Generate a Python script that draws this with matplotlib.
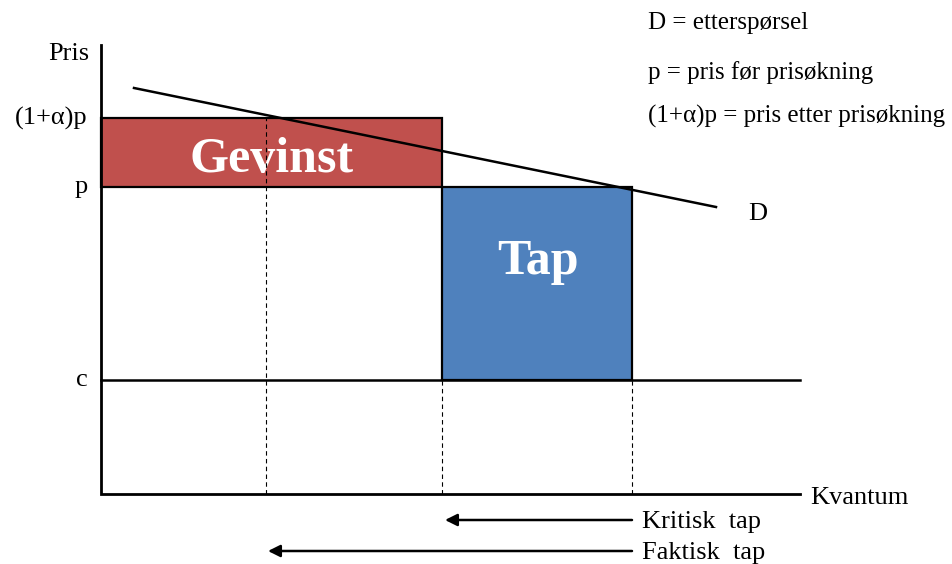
import matplotlib.pyplot as plt
from matplotlib.patches import Rectangle

plt.rcParams['font.family'] = ['Liberation Serif', 'DejaVu Serif']

# diagram values (quantity / price units)
q_gain = 165      # quantity where the actual loss starts
q_new = 341       # quantity after price increase
q_old = 531       # quantity before price increase
q_max = 699
c = 114
p = 307
p_high = 376
p_max = 449
demand_q = [33, 615]
demand_p = [406, 287]

legend_lines = ["D = etterspørsel", "p = pris før prisøkning",
                "(1+α)p = pris etter prisøkning"]
legend_y = [471, 421, 378]
price_labels = ["(1+α)p", "p", "c"]
price_values = [p_high, p, c]

fig = plt.figure(figsize=(9.52, 5.64), dpi=100)
ax = fig.add_axes([0, 0, 1, 1])
ax.set_xlim(-101, 851)
ax.set_ylim(-70, 494)
ax.axis('off')

# filled areas
ax.add_patch(Rectangle((0, p), q_new, p_high - p, facecolor='#C0504D',
                       edgecolor='black', lw=1.6, zorder=2))
ax.add_patch(Rectangle((q_new, c), q_old - q_new, p - c, facecolor='#4F81BD',
                       edgecolor='black', lw=1.6, zorder=2))
ax.text(q_new / 2 + 0.5, p + 15, "Gevinst", color='white', fontsize=36,
        fontweight='bold', ha='center', va='baseline', zorder=4)
ax.text((q_new + q_old) / 2 + 0.5, c + 106, "Tap", color='white', fontsize=36,
        fontweight='bold', ha='center', va='baseline', zorder=4)

# axes and cost line
ax.plot([0, 0, q_max], [p_max, 0, 0], color='black', lw=2, zorder=5,
        solid_joinstyle='miter')
ax.plot([0, q_max], [c, c], color='black', lw=1.8, zorder=5)

# demand curve
ax.plot(demand_q, demand_p, color='black', lw=1.8, zorder=5)

# dashed guides
dash = dict(color='black', lw=0.8, ls=(0, (4, 3)), zorder=5)
ax.plot([q_gain, q_gain], [0, p_high], **dash)
ax.plot([q_new, q_new], [0, c], **dash)
ax.plot([q_old, q_old], [0, c], **dash)

# arrows
arrow = dict(arrowstyle='-|>', color='black', lw=1.8, mutation_scale=18,
             shrinkA=0, shrinkB=0)
ax.annotate("", xy=(q_new + 3, -26), xytext=(q_old, -26), arrowprops=arrow)
ax.annotate("", xy=(q_gain + 2, -57), xytext=(q_old, -57), arrowprops=arrow)
ax.text(q_old + 10, -28, "Kritisk  tap", fontsize=19, ha='left', va='center')
ax.text(q_old + 10, -59, "Faktisk  tap", fontsize=19, ha='left', va='center')

# labels
ax.text(-12, p_max - 9, "Pris", fontsize=19, ha='right', va='center')
for lab, val in zip(price_labels, price_values):
    ax.text(-13, val, lab, fontsize=19, ha='right', va='center')
ax.text(q_max + 10, -4, "Kvantum", fontsize=19, ha='left', va='center')
ax.text(647, 280, "D", fontsize=19, ha='left', va='center')

for line, y in zip(legend_lines, legend_y):
    ax.text(547, y, line, fontsize=18, ha='left', va='center')

fig.savefig("out.png", dpi=100)
